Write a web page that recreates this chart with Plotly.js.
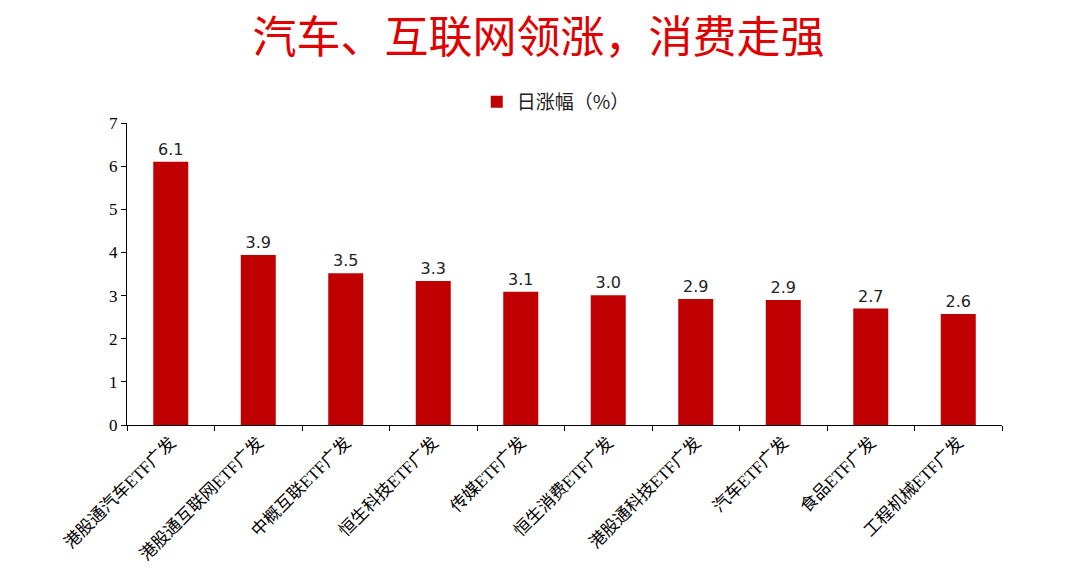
<!DOCTYPE html>
<html>
<head>
<meta charset="utf-8">
<script src="https://cdn.plot.ly/plotly-3.0.1.min.js"></script>
<style>
  html, body { margin: 0; padding: 0; background: #fff; }
  #chart { width: 1077px; height: 582px; }
</style>
</head>
<body>
<div id="chart"></div>
<script>
// Data
const funds = ['港股通汽车ETF广发', '港股通互联网ETF广发', '中概互联ETF广发', '恒生科技ETF广发', '传媒ETF广发',
               '恒生消费ETF广发', '港股通科技ETF广发', '汽车ETF广发', '食品ETF广发', '工程机械ETF广发'];
const dailyGain = [6.1, 3.94, 3.52, 3.34, 3.09, 3.01, 2.92, 2.9, 2.7, 2.57];
const gainLabels = ['6.1', '3.9', '3.5', '3.3', '3.1', '3.0', '2.9', '2.9', '2.7', '2.6'];
const yTicks = [0, 1, 2, 3, 4, 5, 6, 7];

const serif = '"Liberation Serif", "Noto Sans CJK SC", serif';
const cjk = '"Noto Sans CJK SC", sans-serif';

const data = [{
    type: 'bar',
    x: funds,
    y: dailyGain,
    text: gainLabels,
    textposition: 'outside',
    cliponaxis: false,
    textfont: { family: '"DejaVu Sans", sans-serif', size: 16, color: '#222' },
    marker: { color: '#C00000' },
    name: '日涨幅（%）',
    hoverinfo: 'x+y'
}];

const layout = {
    width: 1077,
    height: 582,
    margin: { l: 127, r: 75, t: 123, b: 157 },
    paper_bgcolor: '#fff',
    plot_bgcolor: '#fff',
    bargap: 0.6,
    title: {
        text: '汽车、互联网领涨，消费走强',
        font: { family: cjk, size: 44, color: '#E00000' },
        x: 0.5,
        xanchor: 'center',
        y: 0.935,
        yanchor: 'middle'
    },
    showlegend: true,
    legend: {
        orientation: 'h',
        x: 0.49,
        xanchor: 'center',
        y: 1.07,
        yanchor: 'middle',
        font: { family: cjk, size: 19, color: '#222' }
    },
    xaxis: {
        type: 'category',
        showline: true,
        linecolor: '#000',
        linewidth: 1,
        ticks: 'outside',
        tickson: 'boundaries',
        ticklen: 5,
        tickcolor: '#000',
        tickangle: -45,
        tickfont: { family: serif, size: 17, color: '#000' },
        showgrid: false,
        zeroline: false
    },
    yaxis: {
        range: [0, 7],
        tickvals: yTicks,
        showline: true,
        linecolor: '#000',
        linewidth: 1,
        ticks: 'outside',
        ticklen: 5,
        tickcolor: '#000',
        tickfont: { family: serif, size: 17, color: '#000' },
        showgrid: false,
        zeroline: false
    }
};

Plotly.newPlot('chart', data, layout, { displayModeBar: false, staticPlot: true });
</script>
</body>
</html>
